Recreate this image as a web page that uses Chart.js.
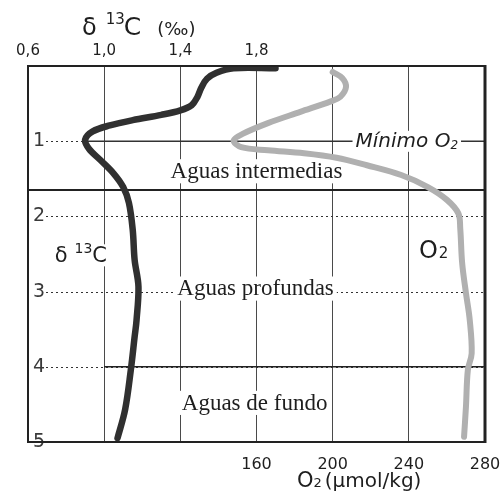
<!DOCTYPE html>
<html>
<head>
<meta charset="utf-8">
<script src="https://cdn.jsdelivr.net/npm/chart.js@4.4.1/dist/chart.umd.min.js"></script>
<style>
    html, body { margin: 0; padding: 0; background: #fff; }
</style>
</head>
<body>
<canvas id="perfil" width="500" height="493"></canvas>
<script>
// --- DATA ---
// perfil de δ13C (‰) con la profundidad (km)
const d13cDepths = [0.03, 0.03, 0.09, 0.17, 0.29, 0.41, 0.52, 0.59, 0.65, 0.72, 0.79, 0.87, 0.98, 1.10, 1.25, 1.43, 1.61, 1.82, 2.18, 2.58, 2.93, 3.38, 3.60, 4.04, 4.57, 4.95];
const d13cValues = [1.90, 1.68, 1.59, 1.54, 1.51, 1.49, 1.46, 1.40, 1.30, 1.15, 1.03, 0.94, 0.90, 0.92, 0.98, 1.05, 1.10, 1.13, 1.15, 1.16, 1.18, 1.17, 1.16, 1.14, 1.11, 1.07];

// perfil de O2 (µmol/kg)
const o2Depths = [0.08, 0.16, 0.28, 0.41, 0.47, 0.61, 0.76, 0.90, 0.99, 1.08, 1.12, 1.16, 1.22, 1.32, 1.45, 1.61, 1.78, 1.96, 2.16, 2.62, 3.02, 3.38, 3.82, 4.04, 4.53, 4.93];
const o2Values = [200, 205, 207, 204, 199, 183, 166, 153, 148, 152, 166, 185, 202, 218, 236, 250, 260, 266, 267, 268, 270, 272, 273, 271, 270, 269];

// ejes
const d13cTickLabels = ['0,6', '1,0', '1,4', '1,8'];
const o2TickLabels = ['160', '200', '240', '280'];
const depthTickLabels = ['1', '2', '3', '4', '5'];

// líneas horizontales
const dottedDepths = [1, 2, 3, 4];
const waterMassLimits = [1.65, 4];
const o2MinimumDepth = 1;

const SANS = "'DejaVu Sans', sans-serif";
const SERIF = "'Liberation Serif', serif";

// --- HELPERS ---
function drawPieces(ctx, x, y, pieces) {
    // pieces: texto con tamaños y desplazamientos (sub/superíndices)
    let cx = x;
    pieces.forEach(p => {
        ctx.font = `${p.italic ? 'oblique ' : ''}${p.size}px ${p.family || SANS}`;
        ctx.fillText(p.t, cx + (p.dx || 0), y + (p.dy || 0));
        cx += (p.dx || 0) + ctx.measureText(p.t).width;
    });
    return cx;
}

function piecesWidth(ctx, pieces) {
    let w = 0;
    pieces.forEach(p => {
        ctx.font = `${p.italic ? 'oblique ' : ''}${p.size}px ${p.family || SANS}`;
        w += (p.dx || 0) + ctx.measureText(p.t).width;
    });
    return w;
}

function labelWithBg(ctx, x, y, pieces, size) {
    const w = piecesWidth(ctx, pieces);
    ctx.fillStyle = '#fff';
    ctx.fillRect(x - 3, y - size * 0.82, w + 6, size * 1.05);
    ctx.fillStyle = '#1e1e1e';
    drawPieces(ctx, x, y, pieces);
}

// --- PLUGIN: líneas de masas de agua, rótulos y marco ---
const perfilDecor = {
    id: 'perfilDecor',
    beforeDatasetsDraw(chart) {
        const { ctx, chartArea: a, scales } = chart;
        const y = scales.y, xd = scales.d13c, xo = scales.o2;
        ctx.save();
        ctx.strokeStyle = '#333';

        // líneas punteadas en cada km
        ctx.lineWidth = 1;
        ctx.setLineDash([2, 3]);
        dottedDepths.forEach(d => {
            const py = Math.round(y.getPixelForValue(d)) + 0.5;
            ctx.beginPath();
            ctx.moveTo(a.left + 18, py);
            ctx.lineTo(a.right, py);
            ctx.stroke();
        });
        ctx.setLineDash([]);

        // mínimo de O2: continua desde el perfil de δ13C
        const pyMin = y.getPixelForValue(o2MinimumDepth);
        ctx.lineWidth = 1.5;
        ctx.beginPath();
        ctx.moveTo(xd.getPixelForValue(0.9), pyMin);
        ctx.lineTo(a.right, pyMin);
        ctx.stroke();

        // límites entre masas de agua
        ctx.strokeStyle = '#222';
        waterMassLimits.forEach((d, i) => {
            const py = y.getPixelForValue(d);
            ctx.lineWidth = i === 0 ? 2 : 1.5;
            ctx.beginPath();
            ctx.moveTo(i === 0 ? a.left : xd.getPixelForValue(1.0), py);
            ctx.lineTo(a.right, py);
            ctx.stroke();
        });

        // rótulos de las masas de agua
        ctx.textBaseline = 'alphabetic';
        [
            { t: 'Aguas intermedias', o2: 160, depth: 1.49 },
            { t: 'Aguas profundas', o2: 159.5, depth: 3.05 },
            { t: 'Aguas de fundo', o2: 159, depth: 4.57 },
        ].forEach(l => {
            const pieces = [{ t: l.t, size: 23, family: SERIF }];
            const w = piecesWidth(ctx, pieces);
            labelWithBg(ctx, xo.getPixelForValue(l.o2) - w / 2, y.getPixelForValue(l.depth), pieces, 23);
        });

        labelWithBg(ctx, xo.getPixelForValue(212), y.getPixelForValue(1.08), [
            { t: 'Mínimo O', size: 20, italic: true },
            { t: '2', size: 12, italic: true, dy: 2 },
        ], 20);

        labelWithBg(ctx, xd.getPixelForValue(0.74), y.getPixelForValue(2.6), [
            { t: 'δ', size: 21 },
            { t: '13', size: 14, dx: 7, dy: -9 },
            { t: 'C', size: 21 },
        ], 21);

        labelWithBg(ctx, xo.getPixelForValue(245.3), y.getPixelForValue(2.55), [
            { t: 'O', size: 24 },
            { t: '2', size: 15, dx: 1 },
        ], 24);

        ctx.restore();
    },
    afterDatasetsDraw(chart) {
        const { ctx, chartArea: a } = chart;
        ctx.save();
        ctx.strokeStyle = '#222';
        ctx.lineWidth = 2;
        ctx.strokeRect(a.left, a.top, a.right - a.left, a.bottom - a.top);
        // borde derecho algo más grueso
        ctx.lineWidth = 3;
        ctx.beginPath();
        ctx.moveTo(a.right, a.top - 1);
        ctx.lineTo(a.right, a.bottom + 1);
        ctx.stroke();

        // títulos de los ejes
        ctx.fillStyle = '#1e1e1e';
        ctx.textBaseline = 'alphabetic';
        drawPieces(ctx, 82, 35, [
            { t: 'δ', size: 24 },
            { t: '13', size: 15, dx: 9, dy: -11 },
            { t: 'C', size: 25, dx: -1 },
            { t: '(‰)', size: 18, dx: 16 },
        ]);
        drawPieces(ctx, 297, 487, [
            { t: 'O', size: 21 },
            { t: '2', size: 13 },
            { t: '(µmol/kg)', size: 20, dx: 3 },
        ]);
        ctx.restore();
    }
};

// --- CHART ---
const ctx = document.getElementById('perfil').getContext('2d');

new Chart(ctx, {
    type: 'scatter',
    data: {
        datasets: [
            {
                label: 'O2',
                xAxisID: 'o2',
                data: o2Values.map((v, i) => ({ x: v, y: o2Depths[i] })),
                showLine: true,
                borderColor: '#b0b0b0',
                borderWidth: 6,
                pointRadius: 0,
                tension: 0.35,
                borderCapStyle: 'round',
                borderJoinStyle: 'round',
            },
            {
                label: 'O2 (centro)',
                xAxisID: 'o2',
                data: o2Values.map((v, i) => ({ x: v, y: o2Depths[i] })),
                showLine: true,
                borderColor: '#d2d2d2',
                borderWidth: 2.5,
                borderDash: [2, 2],
                pointRadius: 0,
                tension: 0.35,
                borderCapStyle: 'round',
            },
            {
                label: 'δ13C',
                xAxisID: 'd13c',
                data: d13cValues.map((v, i) => ({ x: v, y: d13cDepths[i] })),
                showLine: true,
                borderColor: '#303030',
                borderWidth: 6.5,
                pointRadius: 0,
                tension: 0.35,
                borderCapStyle: 'round',
                borderJoinStyle: 'round',
            },
        ]
    },
    options: {
        responsive: false,
        animation: false,
        devicePixelRatio: 1,
        layout: { padding: { left: 28, right: 15, top: 0, bottom: 0 } },
        plugins: {
            legend: { display: false },
            tooltip: { enabled: false },
        },
        scales: {
            d13c: {
                type: 'linear',
                position: 'top',
                min: 0.6,
                max: 3.0,
                ticks: {
                    stepSize: 0.4,
                    padding: 6,
                    color: '#1e1e1e',
                    font: { family: SANS, size: 15 },
                    callback: v => {
                        const s = Number(v).toFixed(1).replace('.', ',');
                        return d13cTickLabels.includes(s) ? s : '';
                    },
                },
                grid: { color: '#4a4a4a', lineWidth: 1, drawTicks: false },
                border: { display: false },
                afterFit: s => { s.height = 66; s.paddingLeft = 0; s.paddingRight = 0; },
            },
            o2: {
                type: 'linear',
                position: 'bottom',
                min: 40,
                max: 280,
                ticks: {
                    stepSize: 40,
                    padding: 5,
                    color: '#1e1e1e',
                    font: { family: SANS, size: 16 },
                    callback: v => o2TickLabels.includes(String(v)) ? String(v) : '',
                },
                grid: { display: false },
                border: { display: false },
                afterFit: s => { s.height = 51; s.paddingLeft = 0; s.paddingRight = 0; },
            },
            y: {
                type: 'linear',
                position: 'left',
                reverse: true,
                min: 0,
                max: 5,
                ticks: {
                    stepSize: 1,
                    mirror: true,
                    padding: 5,
                    color: '#3a3a3a',
                    font: { family: SANS, size: 19 },
                    callback: v => depthTickLabels.includes(String(v)) ? String(v) : '',
                },
                grid: { display: false },
                border: { display: false },
                afterFit: s => { s.width = 0; },
            },
        }
    },
    plugins: [perfilDecor]
});
</script>
</body>
</html>
